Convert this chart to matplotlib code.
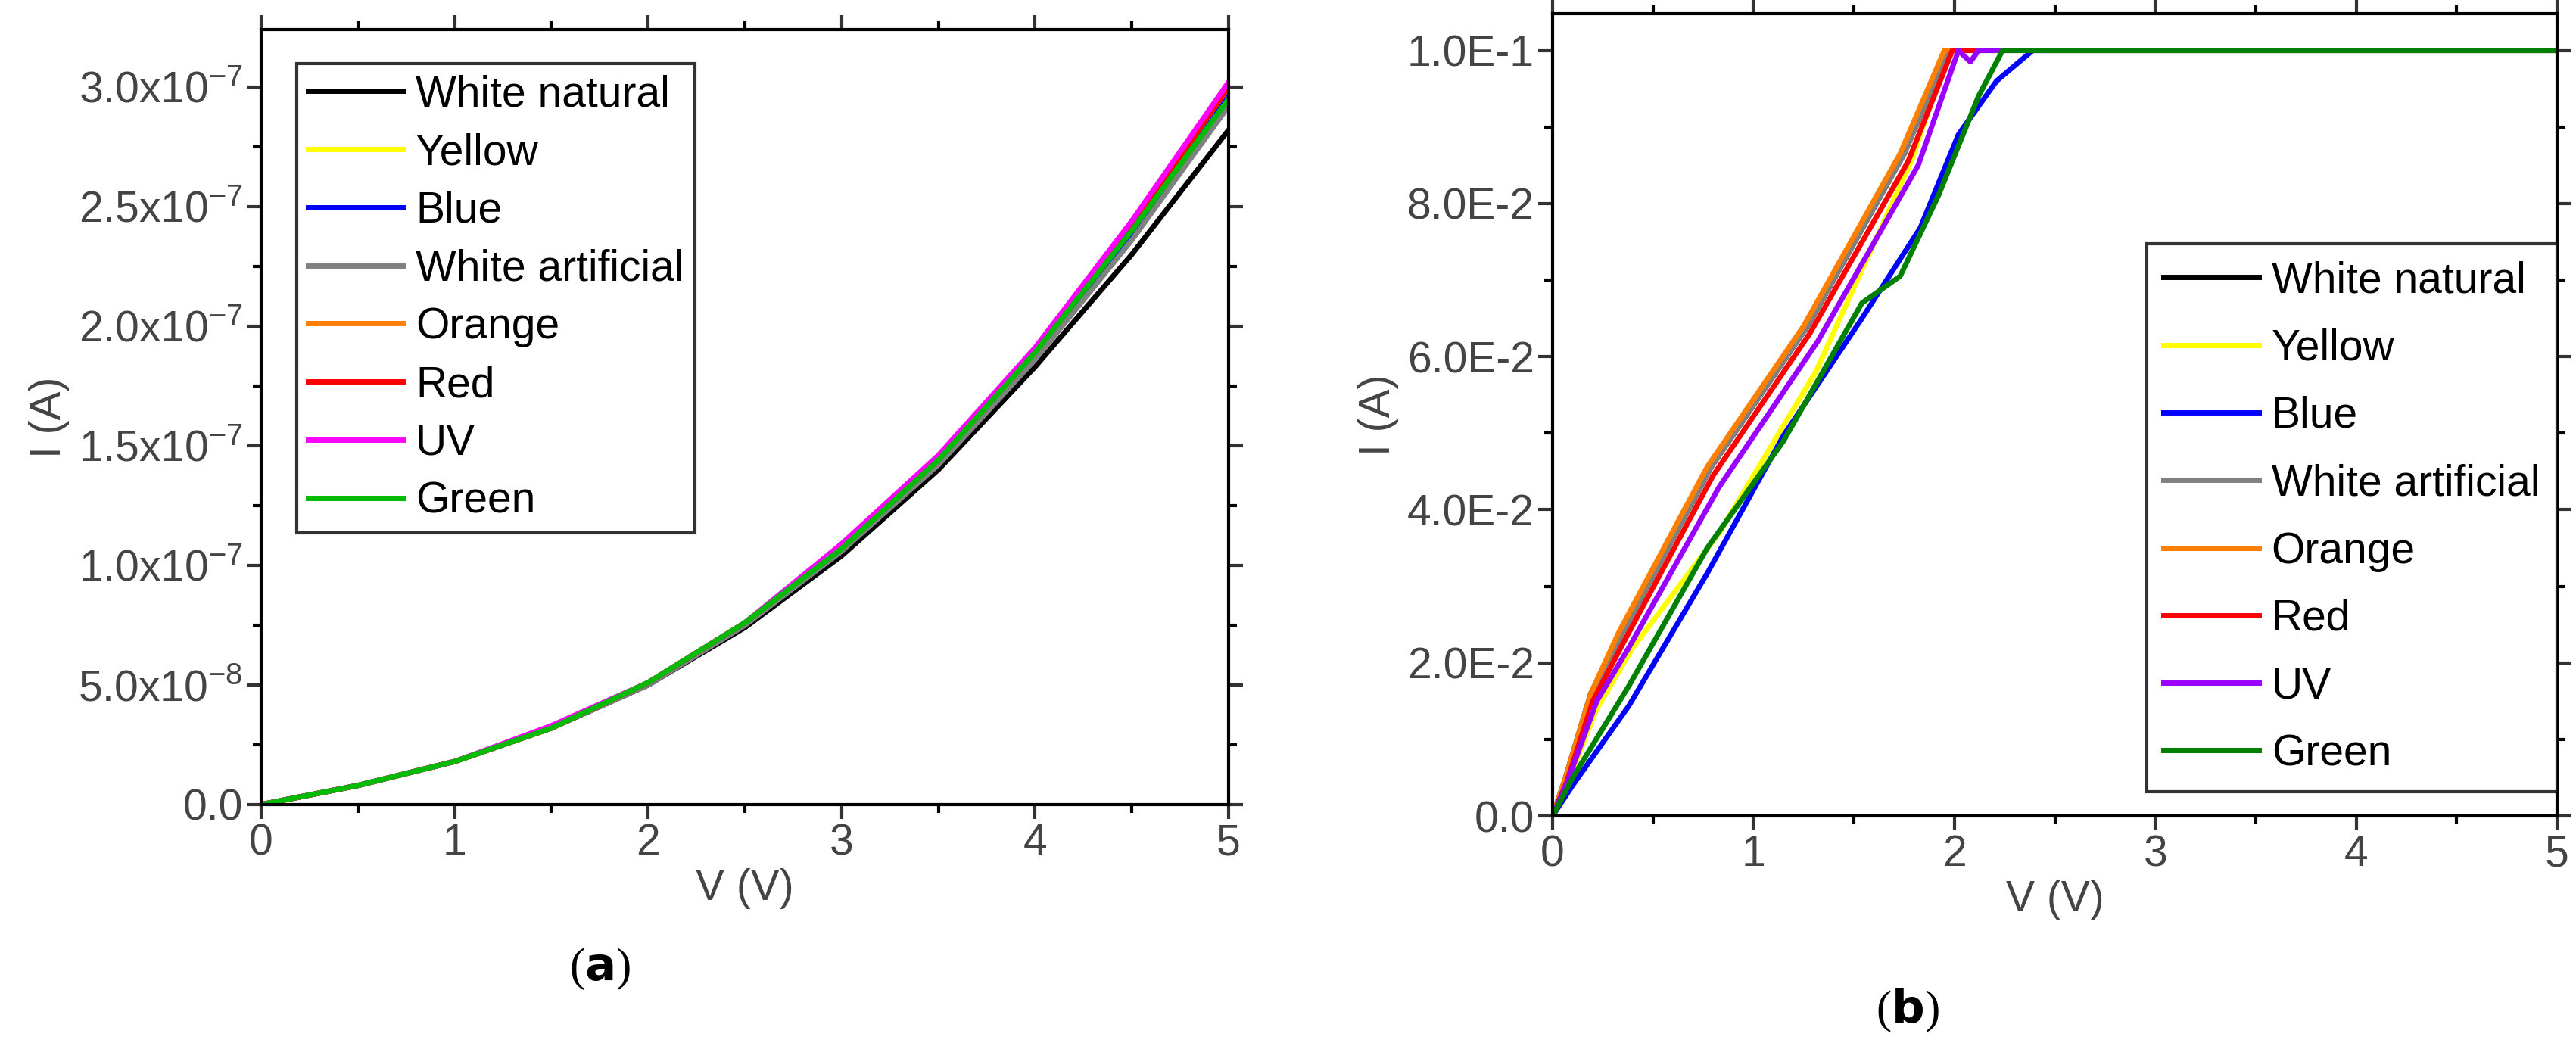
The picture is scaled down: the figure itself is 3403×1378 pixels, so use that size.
import matplotlib
matplotlib.use("Agg")
import matplotlib.pyplot as plt
import numpy as np

plt.rcParams['font.family'] = ['Liberation Sans', 'DejaVu Sans']
plt.rcParams['mathtext.fontset'] = 'custom'
plt.rcParams['mathtext.rm'] = 'Liberation Sans'

names = ["White natural", "Yellow", "Blue", "White artificial", "Orange", "Red", "UV", "Green"]
colors_a = ["#000000", "#ffff00", "#0000ff", "#808080", "#ff8000", "#ff0000", "#ff00ff", "#00bb00"]
colors_b = ["#000000", "#ffff00", "#0000ff", "#808080", "#ff8000", "#ff0000", "#9900ff", "#008000"]

# panel (a): I in units of 1e-8 A
Va = [0, 0.5, 1, 1.5, 2, 2.5, 3, 3.5, 4, 4.5, 5]
Ia = {
    "White natural":    [0, 0.8, 1.8, 3.2, 5.0, 7.4, 10.4, 14.0, 18.3, 23.0, 28.2],
    "Yellow":           [0, 0.8, 1.8, 3.2, 5.0, 7.5, 10.6, 14.4, 18.9, 24.1, 29.8],
    "Blue":             [0, 0.8, 1.8, 3.2, 5.0, 7.5, 10.6, 14.3, 18.8, 23.9, 29.6],
    "White artificial": [0, 0.8, 1.8, 3.2, 5.0, 7.5, 10.6, 14.2, 18.6, 23.6, 29.2],
    "Orange":           [0, 0.8, 1.8, 3.2, 5.1, 7.6, 10.8, 14.5, 19.0, 24.2, 30.0],
    "Red":              [0, 0.8, 1.8, 3.2, 5.1, 7.6, 10.8, 14.5, 19.0, 24.2, 30.0],
    "UV":               [0, 0.8, 1.8, 3.3, 5.1, 7.6, 10.9, 14.6, 19.1, 24.4, 30.2],
    "Green":            [0, 0.8, 1.8, 3.2, 5.1, 7.6, 10.7, 14.4, 18.9, 24.0, 29.5],
}

# panel (b)
Vb = {
    "White natural":    [0, 0.06, 0.19, 0.35, 0.79, 1.27, 1.75, 1.97, 5],
    "Yellow":           [0, 0.07, 0.22, 0.40, 0.83, 1.31, 1.79, 1.97, 5],
    "Blue":             [0, 0.10, 0.38, 0.77, 1.15, 1.54, 1.83, 2.02, 2.21, 2.39, 5],
    "White artificial": [0, 0.06, 0.19, 0.35, 0.79, 1.27, 1.75, 1.97, 5],
    "Orange":           [0, 0.06, 0.19, 0.33, 0.77, 1.25, 1.73, 1.95, 5],
    "Red":              [0, 0.07, 0.20, 0.36, 0.80, 1.28, 1.77, 1.99, 5],
    "UV":               [0, 0.07, 0.22, 0.38, 0.83, 1.32, 1.82, 2.02, 2.08, 2.12, 2.17, 5],
    "Green":            [0, 0.10, 0.38, 0.77, 1.15, 1.54, 1.73, 1.92, 2.12, 2.24, 5],
}
Ib = {
    "White natural":    [0, 0.0046, 0.016, 0.024, 0.0456, 0.064, 0.0865, 0.1, 0.1],
    "Yellow":           [0, 0.0040, 0.014, 0.022, 0.037, 0.058, 0.0858, 0.1, 0.1],
    "Blue":             [0, 0.004, 0.0144, 0.0317, 0.0497, 0.065, 0.0768, 0.089, 0.096, 0.1, 0.1],
    "White artificial": [0, 0.0046, 0.016, 0.024, 0.0456, 0.064, 0.0865, 0.1, 0.1],
    "Orange":           [0, 0.0046, 0.016, 0.024, 0.0456, 0.064, 0.0865, 0.1, 0.1],
    "Red":              [0, 0.0044, 0.015, 0.023, 0.0445, 0.063, 0.0855, 0.1, 0.1],
    "UV":               [0, 0.0042, 0.015, 0.022, 0.043, 0.062, 0.085, 0.1, 0.0985, 0.1, 0.1, 0.1],
    "Green":            [0, 0.005, 0.017, 0.035, 0.049, 0.067, 0.0705, 0.081, 0.094, 0.1, 0.1],
}

yticks_a = [0, 5e-8, 1e-7, 1.5e-7, 2e-7, 2.5e-7, 3e-7]
yticklabels_a = ["0.0", "5.0x10$^{-8}$", "1.0x10$^{-7}$", "1.5x10$^{-7}$", "2.0x10$^{-7}$", "2.5x10$^{-7}$", "3.0x10$^{-7}$"]
yticks_b = [0, 0.02, 0.04, 0.06, 0.08, 0.1]
yticklabels_b = ["0.0", "2.0E-2", "4.0E-2", "6.0E-2", "8.0E-2", "1.0E-1"]
xticks = [0, 1, 2, 3, 4, 5]

W, H = 3403, 1378
fig = plt.figure(figsize=(W/100, H/100), dpi=100)
axa = fig.add_axes([345/W, 1-1063/H, (1623-345)/W, (1063-39)/H])
axb = fig.add_axes([2051/W, 1-1078/H, (3378-2051)/W, (1078-18)/H])

FS = 41
for ax in (axa, axb):
    for s in ax.spines.values():
        s.set_linewidth(3)
    ax.set_xlim(0, 5)
    ax.set_xticks(xticks)
    ax.set_xticklabels([str(x) for x in xticks])
    ax.set_xticks(np.arange(0.5, 5, 1.0), minor=True)
    ax.tick_params(which='major', length=14, width=3, labelsize=FS, colors='#333333', labelcolor='#444444')
    ax.tick_params(which='minor', length=8, width=3)
    ax.tick_params(which='both', top=True, right=True)
    ax.set_xlabel("V (V)", fontsize=FS, color='#444444', labelpad=4)
    ax.set_ylabel("I (A)", fontsize=FS, color='#444444', labelpad=8)

for n, c in zip(names, colors_a):
    axa.plot(Va, np.array(Ia[n]) * 1e-8, color=c, lw=5, label=n)
axa.set_ylim(0, 3.24e-7)
axa.set_yticks(yticks_a)
axa.set_yticklabels(yticklabels_a)
axa.set_yticks(np.arange(2.5e-8, 3.2e-7, 5e-8), minor=True)
leg = axa.legend(loc='upper left', bbox_to_anchor=(0.037, 0.956), fontsize=FS, frameon=True,
                 fancybox=False, edgecolor='black', handlelength=2.2, handletextpad=0.3,
                 labelspacing=0.4, borderpad=0.25, borderaxespad=0)
leg.get_frame().set_linewidth(3)

for n, c in zip(names, colors_b):
    axb.plot(Vb[n], Ib[n], color=c, lw=5, label=n)
axb.set_ylim(0, 0.1048)
axb.set_yticks(yticks_b)
axb.set_yticklabels(yticklabels_b)
axb.set_yticks(np.arange(0.01, 0.1, 0.02), minor=True)
leg = axb.legend(loc='lower right', bbox_to_anchor=(1.0, 0.03), fontsize=FS, frameon=True,
                 fancybox=False, edgecolor='black', handlelength=2.2, handletextpad=0.3,
                 labelspacing=0.62, borderpad=0.4, borderaxespad=0)
leg.get_frame().set_linewidth(3)

fig.text(793/W, 1-1280/H, "(" + r"$\mathbf{a}$" + ")", fontsize=44, ha='center', va='center', family='Liberation Serif')
fig.text(2520/W, 1-1335/H, "(" + r"$\mathbf{b}$" + ")", fontsize=44, ha='center', va='center', family='Liberation Serif')

fig.savefig("out.png", dpi=100)
